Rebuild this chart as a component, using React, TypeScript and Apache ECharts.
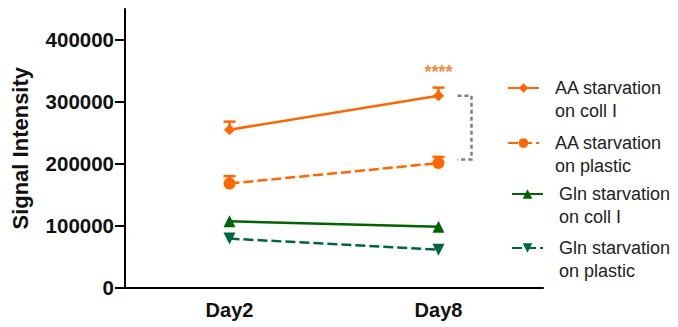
import React, { useEffect, useRef } from "react";
import * as echarts from "echarts";

// Time points and measured signal intensities (means and upper error bounds)
const days = ["Day2", "Day8"];
const yTicks = [0, 100000, 200000, 300000, 400000];

const aaCollMean = [255000, 310000];
const aaCollUpper = [268000, 323000];
const aaPlasticMean = [168000, 201000];
const aaPlasticUpper = [180000, 211000];
const glnCollMean = [107000, 98000];
const glnPlasticMean = [79000, 61000];

// Significance bracket between the two AA conditions at Day8
const bracketValues = [310000, 207000];
const starsValue = 349000;
const starsText = "****";

const ORANGE = "#ff6600";
const GREEN = "#006400";
const TEAL_GREEN = "#00663f";
const FONT = "Liberation Sans, Arial, sans-serif";

const names = [
  "AA starvation\non coll I",
  "AA starvation\non plastic",
  "Gln starvation\non coll I",
  "Gln starvation\non plastic",
];

function errorSeries(mean: number[], upper: number[], color: string) {
  return {
    type: "custom",
    silent: true,
    z: 3,
    data: mean.map((m, i) => [i, m, upper[i]]),
    renderItem: (_params: any, api: any) => {
      const x = api.value(0);
      const base = api.coord([x, api.value(1)]);
      const top = api.coord([x, api.value(2)]);
      const half = 6;
      return {
        type: "group",
        children: [
          {
            type: "line",
            shape: { x1: base[0], y1: base[1], x2: top[0], y2: top[1] },
            style: { stroke: color, lineWidth: 2.5 },
          },
          {
            type: "line",
            shape: { x1: top[0] - half, y1: top[1], x2: top[0] + half, y2: top[1] },
            style: { stroke: color, lineWidth: 2.5 },
          },
        ],
      };
    },
  };
}

export default function App() {
  const ref = useRef<HTMLDivElement>(null);

  useEffect(() => {
    if (!ref.current) return;
    const chart = echarts.init(ref.current, undefined, { renderer: "svg" });

    const legendText = {
      fontFamily: FONT,
      fontSize: 18,
      color: "#222",
      lineHeight: 23,
      padding: [0, 0, 0, 11],
    };
    const legendTops = [53.5, 108.5, 159.5, 213.5];
    const legendLefts = [507, 507, 511, 511];

    chart.setOption({
      animation: false,
      grid: { left: 125, right: 135, top: 9, bottom: 39.5 },
      legend: names.map((n, i) => ({
        orient: "vertical",
        left: legendLefts[i],
        top: legendTops[i],
        padding: 0,
        itemWidth: 31,
        itemHeight: 12,
        selectedMode: false,
        data: [n],
        formatter: (name: string) => "\n" + name,
        textStyle: legendText,
      })),
      xAxis: {
        type: "category",
        data: days,
        boundaryGap: true,
        axisLine: { lineStyle: { color: "#000", width: 2 } },
        axisTick: { alignWithLabel: true, length: 7, lineStyle: { color: "#000", width: 2 } },
        axisLabel: {
          margin: 12,
          color: "#111",
          fontFamily: FONT,
          fontWeight: "bold",
          fontSize: 20,
        },
        splitLine: { show: false },
      },
      yAxis: {
        type: "value",
        min: 0,
        max: 450000,
        interval: 100000,
        name: "Signal Intensity",
        nameLocation: "middle",
        nameGap: 94,
        nameTextStyle: {
          color: "#111",
          fontFamily: FONT,
          fontWeight: "bold",
          fontSize: 22,
        },
        axisLine: { show: true, lineStyle: { color: "#000", width: 2 } },
        axisTick: {
          show: true,
          length: 10,
          customValues: yTicks,
          lineStyle: { color: "#000", width: 2 },
        },
        axisLabel: {
          margin: 11,
          customValues: yTicks,
          formatter: (v: number) => String(v),
          color: "#111",
          fontFamily: FONT,
          fontWeight: "bold",
          fontSize: 20.5,
        },
        splitLine: { show: false },
      },
      series: [
        {
          name: names[0],
          type: "line",
          data: aaCollMean,
          symbol: "diamond",
          symbolSize: 11,
          itemStyle: { color: ORANGE },
          lineStyle: { color: ORANGE, width: 2.5 },
          z: 4,
        },
        {
          name: names[1],
          type: "line",
          data: aaPlasticMean,
          symbol: "circle",
          symbolSize: 12,
          itemStyle: { color: ORANGE },
          lineStyle: { color: ORANGE, width: 2.5, type: [10, 4] },
          z: 4,
        },
        {
          name: names[2],
          type: "line",
          data: glnCollMean,
          symbol: "triangle",
          symbolSize: 12,
          itemStyle: { color: GREEN },
          lineStyle: { color: GREEN, width: 2.5 },
          z: 4,
        },
        {
          name: names[3],
          type: "line",
          data: glnPlasticMean,
          symbol: "triangle",
          symbolRotate: 180,
          symbolSize: 12,
          itemStyle: { color: TEAL_GREEN },
          lineStyle: { color: TEAL_GREEN, width: 2.5, type: [10, 4] },
          z: 4,
        },
        errorSeries(aaCollMean, aaCollUpper, ORANGE),
        errorSeries(aaPlasticMean, aaPlasticUpper, ORANGE),
      ],
    });

    // Bracket and significance stars are placed through the chart's own scales
    const top = chart.convertToPixel({ gridIndex: 0 }, [days[1], bracketValues[0]]) as number[];
    const bottom = chart.convertToPixel({ gridIndex: 0 }, [days[1], bracketValues[1]]) as number[];
    const stars = chart.convertToPixel({ gridIndex: 0 }, [days[1], starsValue]) as number[];
    const bx0 = top[0] + 19;
    const bx1 = top[0] + 33;
    chart.setOption({
      graphic: [
        {
          type: "polyline",
          shape: {
            points: [
              [bx0, top[1]],
              [bx1, top[1]],
              [bx1, bottom[1]],
              [bx0, bottom[1]],
            ],
          },
          style: { stroke: "#7f7f7f", lineWidth: 2.5, lineDash: [4, 3], fill: null },
        },
        {
          type: "text",
          x: stars[0],
          y: stars[1],
          style: {
            text: starsText,
            fill: "#f28a4a",
            font: `bold 18px ${FONT}`,
            align: "center",
            verticalAlign: "middle",
          },
        },
      ],
    });

    return () => chart.dispose();
  }, []);

  return (
    <div
      ref={ref}
      style={{ position: "absolute", left: 0, top: 0, width: 678, height: 327 }}
    />
  );
}
